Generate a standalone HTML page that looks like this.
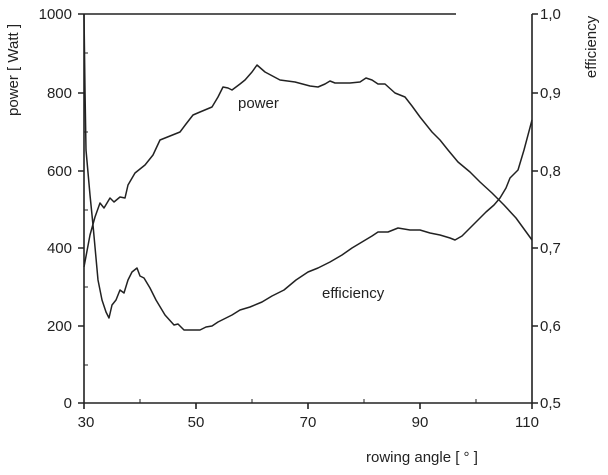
<!DOCTYPE html>
<html><head><style>body{margin:0;background:#fff}svg{display:block}text{font-family:"Liberation Sans",sans-serif;font-size:15px;fill:#222}</style></head>
<body>
<svg width="608" height="475" viewBox="0 0 608 475">
<g stroke="#222" stroke-width="1.6" fill="none">
<line x1="84" y1="14" x2="84" y2="403"/>
<line x1="532" y1="14" x2="532" y2="403"/>
<line x1="84" y1="403" x2="532" y2="403"/>
<line x1="84" y1="14" x2="456" y2="14"/>
<path d="M78 14H84M78 93H84M78 171H84M78 248H84M78 326H84M78 403H84"/>
<path d="M84 53H88M84 132H88M84 210H88M84 287H88M84 365H88" stroke-width="1"/>
<path d="M532 14H538M532 93H538M532 171H538M532 248H538M532 326H538M532 403H538"/>
<path d="M84 403V409M196 403V409M308 403V409M420 403V409M532 403V409"/>
<path d="M140 403V399M252 403V399M364 403V399M476 403V399" stroke-width="1"/>
</g>
<g stroke="#222" stroke-width="1.5" fill="none" stroke-linejoin="round">
<polyline points="84,267 90,235 95,217 100,203 104,208 110,198 114,202 120,197 125,198 128,185 135,173 145,165 153,155 160,140 170,136 180,132 186,124 193,115 200,112 212,107 218,97 223,87 228,88 232,90 240,84 245,80 252,72 257,65 265,72 280,80 295,82 310,86 318,87 325,84 330,81 335,83 350,83 360,82 366,78 372,80 378,84 385,84 395,93 405,97 412,106 420,117 432,132 440,140 448,150 458,162 470,172 480,182 492,193 504,205 516,218 532,240"/>
<polyline points="84,14 85,90 86,150 90,195 93,225 98,280 102,300 106,312 109,318 112,305 116,300 120,290 124,293 128,280 132,272 137,268 140,276 144,278 150,288 156,300 165,315 174,325 178,324 184,330 192,330 200,330 206,327 212,326 218,322 226,318 232,315 240,310 250,307 262,302 272,296 284,290 296,280 308,272 318,268 330,262 342,255 352,248 362,242 372,236 378,232 388,232 398,228 410,230 420,230 430,233 440,235 450,238 455,240 462,236 470,228 478,220 486,212 494,205 500,198 506,188 510,178 518,170 524,150 532,120"/>
</g>
<g text-anchor="end">
<text x="72" y="19">1000</text><text x="72" y="98">800</text><text x="72" y="176">600</text><text x="72" y="253">400</text><text x="72" y="331">200</text><text x="72" y="408">0</text>
</g>
<g>
<text x="540" y="19">1,0</text><text x="540" y="98">0,9</text><text x="540" y="176">0,8</text><text x="540" y="253">0,7</text><text x="540" y="331">0,6</text><text x="540" y="408">0,5</text>
</g>
<g text-anchor="middle">
<text x="86" y="427">30</text><text x="196" y="427">50</text><text x="308" y="427">70</text><text x="420" y="427">90</text><text x="527" y="427">110</text>
</g>
<text x="366" y="462">rowing angle [ ° ]</text>
<text x="238" y="108">power</text>
<text x="322" y="298">efficiency</text>
<text transform="translate(18,70) rotate(-90)" text-anchor="middle">power [ Watt ]</text>
<text transform="translate(596,47) rotate(-90)" text-anchor="middle">efficiency</text>
</svg>
</body></html>
